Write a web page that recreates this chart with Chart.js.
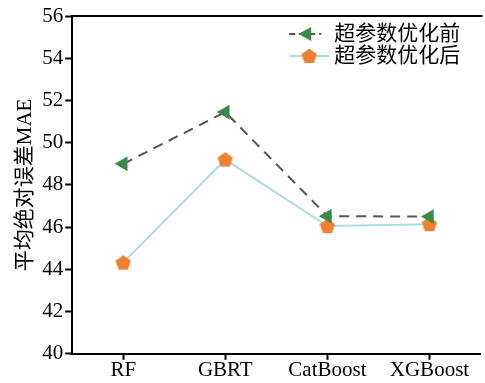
<!DOCTYPE html>
<html>
<head>
<meta charset="utf-8">
<script src="https://cdn.jsdelivr.net/npm/chart.js@4.4.1/dist/chart.umd.min.js"></script>
<style>
  html, body { margin: 0; padding: 0; background: #fff; overflow: hidden; }
  #wrap { width: 489px; height: 383px; }
</style>
</head>
<body>
<div id="wrap"><canvas id="maeChart" width="489" height="383"></canvas></div>
<script>
// Chart data
const models = ['RF', 'GBRT', 'CatBoost', 'XGBoost'];
const maeBefore = [49.0, 51.45, 46.52, 46.5];
const maeAfter = [44.32, 49.2, 46.05, 46.14];
const yTicks = [40, 42, 44, 46, 48, 50, 52, 54, 56];
const seriesNames = ['超参数优化前', '超参数优化后'];

const serif = "'Liberation Serif', 'Times New Roman', serif";
const cjk = "'Liberation Serif', 'Noto Sans CJK SC', serif";

// pentagon marker for the second series
function makePentagon(size, color) {
    const c = document.createElement('canvas');
    c.width = size; c.height = size;
    const g = c.getContext('2d');
    const r = size / 2;
    g.beginPath();
    for (let i = 0; i < 5; i++) {
        const a = -Math.PI / 2 + i * 2 * Math.PI / 5;
        const px = r + r * Math.cos(a);
        const py = r + 0.5 + r * Math.sin(a);
        if (i === 0) g.moveTo(px, py); else g.lineTo(px, py);
    }
    g.closePath();
    g.fillStyle = color;
    g.fill();
    return c;
}
const pentagon = makePentagon(16, '#f07f2e');

// top border + legend inside the plot
const framePlugin = {
    id: 'frame',
    afterDraw(chart) {
        const { ctx, chartArea } = chart;
        ctx.save();
        ctx.strokeStyle = '#000';
        ctx.lineWidth = 2;
        ctx.beginPath();
        ctx.moveTo(chartArea.left, chartArea.top);
        ctx.lineTo(chartArea.right + 2, chartArea.top);
        ctx.stroke();

        // legend
        const lx = chartArea.left + 217;
        const ly1 = chartArea.top + 18;
        const ly2 = chartArea.top + 40;
        ctx.lineWidth = 2;
        ctx.strokeStyle = '#555';
        ctx.setLineDash([6, 4]);
        ctx.beginPath();
        ctx.moveTo(lx, ly1); ctx.lineTo(lx + 32, ly1);
        ctx.stroke();
        ctx.setLineDash([]);
        ctx.fillStyle = '#3a8a44';
        ctx.beginPath();
        ctx.moveTo(lx + 9, ly1);
        ctx.lineTo(lx + 22, ly1 - 7);
        ctx.lineTo(lx + 22, ly1 + 7);
        ctx.closePath();
        ctx.fill();

        ctx.strokeStyle = '#a8dde2';
        ctx.beginPath();
        ctx.moveTo(lx, ly2); ctx.lineTo(lx + 40, ly2);
        ctx.stroke();
        ctx.drawImage(pentagon, lx + 12, ly2 - 8);

        ctx.fillStyle = '#000';
        ctx.font = "21px " + cjk;
        ctx.textBaseline = 'middle';
        ctx.fillText(seriesNames[0], lx + 45, ly1);
        ctx.fillText(seriesNames[1], lx + 45, ly2);
        ctx.restore();
    }
};

const ctx = document.getElementById('maeChart').getContext('2d');
const maeChart = new Chart(ctx, {
    type: 'line',
    data: {
        labels: models,
        datasets: [{
            label: seriesNames[0],
            data: maeBefore,
            borderColor: '#555',
            borderWidth: 2,
            borderDash: [10, 7],
            pointStyle: 'triangle',
            rotation: -90,
            pointRadius: 8.5,
            pointBackgroundColor: '#3a8a44',
            pointBorderWidth: 0,
            tension: 0
        }, {
            label: seriesNames[1],
            data: maeAfter,
            borderColor: '#a8dde2',
            borderWidth: 2,
            pointStyle: pentagon,
            tension: 0
        }]
    },
    options: {
        responsive: false,
        animation: false,
        layout: { padding: { top: 16, right: 0, left: 13, bottom: 2 } },
        plugins: {
            legend: { display: false },
            tooltip: { enabled: false }
        },
        scales: {
            x: {
                offset: true,
                grid: {
                    display: true,
                    drawOnChartArea: false,
                    drawTicks: true,
                    tickLength: 6,
                    tickWidth: 2,
                    tickColor: '#000',
                    offset: false
                },
                border: { display: true, color: '#000', width: 2 },
                ticks: {
                    color: '#000',
                    font: { family: serif, size: 21 },
                    padding: -2
                }
            },
            y: {
                min: 40,
                max: 56,
                afterBuildTicks(axis) {
                    axis.ticks = yTicks.map(v => ({ value: v }));
                },
                grid: {
                    display: true,
                    drawOnChartArea: false,
                    drawTicks: true,
                    tickLength: 7,
                    tickWidth: 2,
                    tickColor: '#000'
                },
                border: { display: true, color: '#000', width: 2 },
                ticks: {
                    color: '#000',
                    font: { family: serif, size: 21 },
                    padding: 2
                },
                title: {
                    display: true,
                    text: '平均绝对误差MAE',
                    color: '#000',
                    font: { family: cjk, size: 21 },
                    padding: { top: 0, bottom: 2 }
                }
            }
        }
    },
    plugins: [framePlugin]
});
</script>
</body>
</html>
